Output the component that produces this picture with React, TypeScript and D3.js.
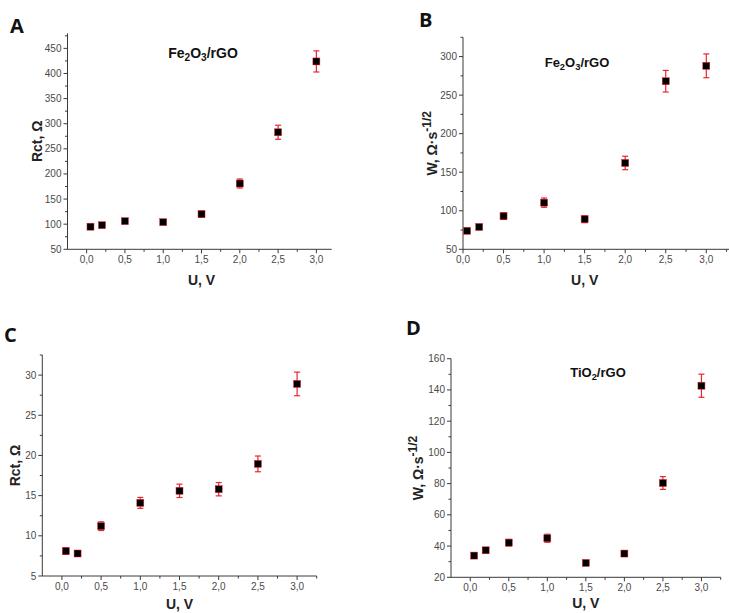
import React from "react";
import * as d3 from "d3";

// ---- data ----
const voltages = [0.05, 0.2, 0.5, 1.0, 1.5, 2.0, 2.5, 3.0];
const rctFe = [95, 98, 106, 104, 120, 181, 283, 424];
const rctFeErr = [4, 4, 4, 4, 6, 9, 14, 21];
const wFe = [74, 79, 93, 110.5, 89, 162, 268, 288];
const wFeErr = [3, 3, 4.3, 6, 4.5, 8.7, 14, 15.4];
const rctTi = [8.1, 7.8, 11.2, 14.1, 15.6, 15.8, 18.95, 28.9];
const rctTiErr = [0.41, 0.35, 0.54, 0.68, 0.83, 0.83, 0.98, 1.47];
const wTi = [33.9, 37.3, 42.2, 45, 29.2, 35.2, 80.4, 142.7];
const wTiErr = [1.5, 1.5, 2.1, 2.6, 1.3, 1.5, 4.1, 7.4];

const xTicks = [0, 0.5, 1.0, 1.5, 2.0, 2.5, 3.0];
const yTicksA = [50, 100, 150, 200, 250, 300, 350, 400, 450];
const yTicksB = [50, 100, 150, 200, 250, 300];
const yTicksC = [5, 10, 15, 20, 25, 30];
const yTicksD = [20, 40, 60, 80, 100, 120, 140, 160];

type PanelProps = {
  letter: string;
  letterPos: [number, number];
  values: number[];
  errors: number[];
  xDomain: [number, number];
  xRange: [number, number];
  yDomain: [number, number];
  yRange: [number, number];
  yTicks: number[];
  yMinorStep: number;
  yLabel: "rct" | "w";
  yLabelX: number;
  xLabelY: number;
  title?: { main: string[]; x: number; y: number; size: number };
};

const fmtX = (v: number) => d3.format(".1f")(v).replace(".", ",");
const AXIS = "#3a3a3a";
const TICKTXT = "#4a4a4a";
const RED = "#e8262e";

function Panel(p: PanelProps) {
  const x = d3.scaleLinear().domain(p.xDomain).range(p.xRange);
  const y = d3.scaleLinear().domain(p.yDomain).range(p.yRange);
  const x0 = p.xRange[0];
  const y0 = p.yRange[0];
  const xMinor = d3.range(0, p.xDomain[1] + 1e-9, 0.25).filter((v) => !xTicks.some((t) => Math.abs(t - v) < 1e-9) && v >= p.xDomain[0]);
  const yMinor = d3
    .range(p.yDomain[0], p.yDomain[1] + 1e-9, p.yMinorStep)
    .filter((v) => !p.yTicks.some((t) => Math.abs(t - v) < 1e-9));
  const midY = (p.yRange[0] + p.yRange[1]) / 2;
  const midX = (x(0) + x(3)) / 2;
  const s = 7;
  return (
    <g>
      <text x={p.letterPos[0]} y={p.letterPos[1]} fontFamily="'Open Sans', sans-serif" fontWeight={700} fontSize={20} fill="#111">
        {p.letter}
      </text>
      {/* axes */}
      <line x1={x0} x2={x0} y1={p.yRange[0]} y2={p.yRange[1]} stroke={AXIS} strokeWidth={1} />
      <line x1={p.xRange[0]} x2={p.xRange[1]} y1={y0} y2={y0} stroke={AXIS} strokeWidth={1} />
      {p.yTicks.map((t) => (
        <g key={"yt" + t}>
          <line x1={x0 - 4} x2={x0} y1={y(t)} y2={y(t)} stroke={AXIS} />
          <text x={x0 - 6} y={y(t)} dy="0.35em" textAnchor="end" fontFamily="'Liberation Sans', Arial, sans-serif" fontSize={10} fill={TICKTXT}>
            {t}
          </text>
        </g>
      ))}
      {yMinor.map((t) => (
        <line key={"ym" + t} x1={x0 - 2.5} x2={x0} y1={y(t)} y2={y(t)} stroke={AXIS} />
      ))}
      {xTicks.map((t) => (
        <g key={"xt" + t}>
          <line x1={x(t)} x2={x(t)} y1={y0} y2={y0 + 4} stroke={AXIS} />
          <text x={x(t)} y={y0 + 14} textAnchor="middle" fontFamily="'Liberation Sans', Arial, sans-serif" fontSize={10} fill={TICKTXT}>
            {fmtX(t)}
          </text>
        </g>
      ))}
      {xMinor.map((t) => (
        <line key={"xm" + t} x1={x(t)} x2={x(t)} y1={y0} y2={y0 + 2.5} stroke={AXIS} />
      ))}
      {/* axis labels */}
      <text x={midX} y={p.xLabelY} textAnchor="middle" fontFamily="'Liberation Sans', Arial, sans-serif" fontWeight={700} fontSize={14} fill="#222">
        U, V
      </text>
      <text
        transform={`translate(${p.yLabelX},${midY}) rotate(-90)`}
        textAnchor="middle"
        fontFamily="'Liberation Sans', Arial, sans-serif"
        fontWeight={700}
        fontSize={14}
        fill="#222"
      >
        {p.yLabel === "rct" ? (
          "Rct, Ω"
        ) : (
          <>
            <tspan>W, Ω·s</tspan>
            <tspan dy={-6} fontSize={12}>-1/2</tspan>
          </>
        )}
      </text>
      {p.title && (
        <text x={p.title.x} y={p.title.y} textAnchor="middle" fontFamily="'Liberation Sans', Arial, sans-serif" fontWeight={700} fontSize={p.title.size} fill="#111">
          {p.title.main.map((part, i) =>
            i % 2 === 1 ? (
              <tspan key={i} fontSize={p.title!.size * 0.72} dy={3}>
                {part}
              </tspan>
            ) : (
              <tspan key={i} dy={i === 0 ? 0 : -3}>
                {part}
              </tspan>
            )
          )}
        </text>
      )}
      {/* points */}
      {voltages.map((u, i) => {
        const cx = x(u);
        const cy = y(p.values[i]);
        const top = y(p.values[i] + p.errors[i]);
        const bot = y(p.values[i] - p.errors[i]);
        return (
          <g key={"p" + i}>
            <line x1={cx} x2={cx} y1={top} y2={bot} stroke={RED} strokeWidth={1.2} />
            <line x1={cx - 3} x2={cx + 3} y1={top} y2={top} stroke={RED} strokeWidth={1.2} />
            <line x1={cx - 3} x2={cx + 3} y1={bot} y2={bot} stroke={RED} strokeWidth={1.2} />
            <rect x={cx - s / 2} y={cy - s / 2} width={s} height={s} fill="#000" stroke={RED} strokeWidth={0.5} />
          </g>
        );
      })}
    </g>
  );
}

export default function App() {
  return (
    <svg width={729} height={613} style={{ position: "absolute", left: 0, top: 0, background: "#fff" }}>
      <rect width={729} height={613} fill="#fff" />
      <Panel
        letter="A"
        letterPos={[10, 33]}
        values={rctFe}
        errors={rctFeErr}
        xDomain={[-0.25, 3.2]}
        xRange={[67.5, 331.7]}
        yDomain={[50, 480]}
        yRange={[249.3, 33.3]}
        yTicks={yTicksA}
        yMinorStep={25}
        yLabel="rct"
        yLabelX={42}
        xLabelY={285}
        title={{ main: ["Fe", "2", "O", "3", "/rGO"], x: 203, y: 58, size: 14 }}
      />
      <Panel
        letter="B"
        letterPos={[419, 27]}
        values={wFe}
        errors={wFeErr}
        xDomain={[0, 3.28]}
        xRange={[463, 729]}
        yDomain={[50, 325]}
        yRange={[249.3, 37.3]}
        yTicks={yTicksB}
        yMinorStep={25}
        yLabel="w"
        yLabelX={437}
        xLabelY={285}
        title={{ main: ["Fe", "2", "O", "3", "/rGO"], x: 577, y: 67, size: 13 }}
      />
      <Panel
        letter="C"
        letterPos={[4, 342]}
        values={rctTi}
        errors={rctTiErr}
        xDomain={[-0.25, 3.25]}
        xRange={[42.3, 316.7]}
        yDomain={[5, 32.5]}
        yRange={[576, 355]}
        yTicks={yTicksC}
        yMinorStep={2.5}
        yLabel="rct"
        yLabelX={20}
        xLabelY={609}
        title={undefined}
      />
      <Panel
        letter="D"
        letterPos={[406, 335]}
        values={wTi}
        errors={wTiErr}
        xDomain={[-0.25, 3.25]}
        xRange={[451, 720.7]}
        yDomain={[20, 160]}
        yRange={[577.3, 358.7]}
        yTicks={yTicksD}
        yMinorStep={10}
        yLabel="w"
        yLabelX={423}
        xLabelY={608}
        title={{ main: ["TiO", "2", "/rGO"], x: 598, y: 377, size: 13 }}
      />
    </svg>
  );
}
